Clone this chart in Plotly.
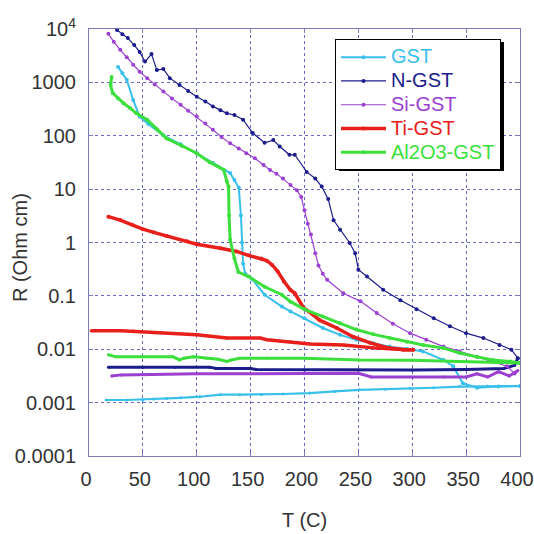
import plotly.graph_objects as go

# Resistivity vs temperature for doped GST films (heating and cooling branches)

series_names = ["GST", "N-GST", "Si-GST", "Ti-GST", "Al2O3-GST"]
series_colors = ["#38c0ea", "#1c1c8c", "#9b40d0", "#e8201c", "#3cdf3c"]

# --- GST ---
gst_heat_T = [27, 31, 35, 41, 47, 55, 69, 85, 100, 115, 131, 135, 139, 141, 142, 143, 145,
              151, 163, 179, 187, 200, 217, 233, 248, 264, 279, 295, 310, 329, 338, 347, 360, 380, 400]
gst_heat_R = [1950, 1480, 1120, 468, 229, 166, 102, 69, 47, 31, 20, 14.8, 10.7, 3.2, 1.0, 0.4, 0.26,
              0.21, 0.105, 0.063, 0.051, 0.038, 0.025, 0.0186, 0.0151, 0.0129, 0.0112, 0.0102, 0.0091,
              0.0063, 0.0048, 0.0023, 0.0019, 0.0020, 0.00204]
gst_cool_T = [400, 370, 344, 320, 298, 275, 251, 228, 205, 180, 160, 140, 122, 103, 85, 72, 60, 50, 35, 16]
gst_cool_R = [0.00204, 0.00204, 0.0020, 0.0019, 0.00186, 0.00178, 0.00174, 0.00162, 0.00151, 0.00145,
              0.00141, 0.00141, 0.00141, 0.00129, 0.00123, 0.0012, 0.00117, 0.00112, 0.00112, 0.00112]

# --- N-GST ---
ngst_heat_T = [26, 31, 36, 42, 47, 52, 58, 63, 69, 75, 84, 92, 100, 108, 115, 122, 128, 135, 143, 152,
               163, 171, 177, 186, 191, 202, 210, 216, 222, 227, 233, 242, 247, 250, 258, 273, 289, 304,
               320, 335, 350, 366, 381, 392, 398]
ngst_heat_R = [9550, 7940, 6760, 5010, 3720, 2450, 3390, 1700, 1780, 1200, 891, 692, 537, 437, 355, 302,
               263, 245, 200, 112, 74, 83, 63, 44, 44, 21, 15.8, 11.2, 6.5, 2.6, 1.74, 0.98, 0.63, 0.31,
               0.23, 0.13, 0.083, 0.056, 0.038, 0.027, 0.020, 0.0162, 0.012, 0.0098, 0.0068]
ngst_cool_T = [398, 395, 385, 350, 300, 250, 200, 155, 150, 118, 112, 80, 50, 18]
ngst_cool_R = [0.0068, 0.0050, 0.00437, 0.00417, 0.00407, 0.00407, 0.00407, 0.00417, 0.00437, 0.00437,
               0.00462, 0.00462, 0.00462, 0.00462]

# --- Si-GST ---
sigst_heat_T = [18, 23, 29, 35, 41, 47, 54, 61, 69, 77, 85, 92, 100, 108, 115, 123, 131, 139, 146, 154,
                162, 168, 174, 180, 187, 193, 197, 200, 203, 206, 210, 213, 217, 221, 236, 252, 267, 282,
                298, 313, 329, 344, 360, 375, 388, 395]
sigst_heat_R = [8130, 5750, 4070, 2950, 2140, 1580, 1200, 912, 676, 501, 380, 295, 229, 170, 129, 95, 72,
                57.5, 46.8, 38, 28.2, 22.9, 19.5, 15.8, 12, 9.5, 7.1, 4.0, 2.24, 1.41, 0.63, 0.37, 0.26,
                0.20, 0.112, 0.079, 0.048, 0.030, 0.020, 0.0151, 0.0112, 0.0091, 0.0072, 0.0059, 0.0048,
                0.0035]
sigst_cool_T = [398, 390, 380, 370, 360, 350, 330, 300, 262, 250, 200, 150, 100, 50, 30, 21]
sigst_cool_R = [0.00398, 0.00316, 0.0038, 0.00302, 0.00347, 0.00302, 0.00302, 0.00302, 0.00302, 0.00355,
                0.00347, 0.00347, 0.00347, 0.00339, 0.00331, 0.00316]

# --- Ti-GST ---
tigst_heat_T = [18, 29, 40, 50, 60, 72, 91, 100, 122, 137, 148, 160, 165, 170, 175, 181, 187, 191, 199,
                207, 214, 230, 245, 261, 276, 292, 301]
tigst_heat_R = [3.05, 2.63, 2.14, 1.78, 1.55, 1.32, 1.05, 0.93, 0.78, 0.68, 0.575, 0.50, 0.457, 0.38, 0.29,
                0.186, 0.129, 0.112, 0.060, 0.046, 0.035, 0.025, 0.0172, 0.0132, 0.0108, 0.0098, 0.0098]
tigst_cool_T = [301, 295, 267, 236, 205, 187, 165, 159, 128, 100, 60, 41, 30, 2]
tigst_cool_R = [0.0098, 0.0098, 0.0105, 0.012, 0.0126, 0.0138, 0.0151, 0.0162, 0.0162, 0.0186, 0.0204,
                0.0219, 0.0221, 0.0221]

# --- Al2O3-GST ---
algst_heat_T = [21, 20, 22, 27, 32, 38, 44, 54, 63, 72, 86, 100, 112, 125, 128, 129.5, 130, 131, 135,
                138.6, 148, 163, 179, 187, 200, 217, 233, 248, 264, 279, 295, 310, 329, 344, 360, 375,
                391, 400]
algst_heat_R = [1260, 891, 631, 501, 407, 331, 263, 200, 132, 89, 65, 47, 32, 23, 13.8, 11.2, 3.16, 1.12,
                0.50, 0.28, 0.23, 0.148, 0.105, 0.078, 0.056, 0.041, 0.031, 0.0234, 0.019, 0.0162, 0.0138,
                0.012, 0.0105, 0.0085, 0.0072, 0.0063, 0.0059, 0.0055]
algst_cool_T = [400, 391, 344, 300, 251, 200, 165, 140, 132, 128, 120, 109, 97, 88, 84, 78, 50, 25, 18]
algst_cool_R = [0.0055, 0.0056, 0.0059, 0.0062, 0.0063, 0.0068, 0.0068, 0.0068, 0.0063, 0.0059, 0.0065,
                0.0068, 0.0072, 0.0068, 0.0063, 0.0072, 0.0072, 0.0072, 0.0079]

x_ticks = [0, 50, 100, 150, 200, 250, 300, 350, 400]
y_ticks = [1e-4, 1e-3, 1e-2, 1e-1, 1, 10, 100, 1000, 1e4]
y_tick_text = ["0.0001", "0.001", "0.01", "0.1", "1", "10", "100", "1000", "10<sup>4</sup>"]
x_title = "T (C)"
y_title = "R (Ohm cm)"

heat = [(gst_heat_T, gst_heat_R), (ngst_heat_T, ngst_heat_R), (sigst_heat_T, sigst_heat_R),
        (tigst_heat_T, tigst_heat_R), (algst_heat_T, algst_heat_R)]
cool = [(gst_cool_T, gst_cool_R), (ngst_cool_T, ngst_cool_R), (sigst_cool_T, sigst_cool_R),
        (tigst_cool_T, tigst_cool_R), (algst_cool_T, algst_cool_R)]
heat_width = [2, 1.2, 1.2, 3.5, 3]
cool_width = [2.2, 3, 3, 3.5, 3]

FONT = "Liberation Sans, Arial, sans-serif"
TEXT = "#333333"

fig = go.Figure()
for i, name in enumerate(series_names):
    c = series_colors[i]
    fig.add_trace(go.Scatter(
        x=cool[i][0], y=cool[i][1], mode="lines+markers",
        line=dict(color=c, width=cool_width[i]), marker=dict(color=c, size=3),
        legendgroup=name, showlegend=False, hoverinfo="skip"))
    fig.add_trace(go.Scatter(
        x=heat[i][0], y=heat[i][1], mode="lines+markers",
        line=dict(color=c, width=heat_width[i]), marker=dict(color=c, size=4),
        legendgroup=name,
        name=f'<span style="color:{c};font-size:20px">{name}</span>'))

axis_common = dict(
    showgrid=True, gridcolor="#6a6ac4", griddash="3px,3px", gridwidth=1,
    showline=True, linecolor="#7b7bb8", linewidth=1, mirror="ticks",
    ticks="inside", ticklen=4, tickcolor="#7b7bb8",
    tickfont=dict(family=FONT, size=20, color=TEXT),
    zeroline=False, automargin=False,
)

fig.update_layout(
    width=534, height=534,
    margin=dict(l=89, r=14, t=29, b=78),
    paper_bgcolor="white", plot_bgcolor="white",
    font=dict(family=FONT, size=20, color=TEXT),
    xaxis=dict(range=[0, 400], tickvals=x_ticks, ticklabelstandoff=5, ticklabelshift=-3,
               ticklabeloverflow="allow", **axis_common),
    yaxis=dict(type="log", range=[-4, 4], tickvals=y_ticks, ticktext=y_tick_text,
               ticklabelstandoff=8, ticklabeloverflow="allow", **axis_common),
    legend=dict(x=0.5708, y=0.976, xanchor="left", yanchor="top",
                bgcolor="white", bordercolor="black", borderwidth=1,
                font=dict(family=FONT, size=16), tracegroupgap=0, itemwidth=45),
    showlegend=True,
    annotations=[
        dict(text=x_title, xref="paper", yref="paper", x=0.50, y=-0.150,
             xanchor="center", yanchor="middle", showarrow=False,
             font=dict(family=FONT, size=20, color=TEXT)),
        dict(text=y_title, xref="paper", yref="paper", x=-0.160, y=0.487,
             xanchor="center", yanchor="middle", textangle=-90, showarrow=False,
             font=dict(family=FONT, size=20, color=TEXT)),
    ],
    # drop shadow behind the legend box
    shapes=[dict(type="rect", xref="paper", yref="paper",
                 x0=(339 - 89) / 431, x1=(504 - 89) / 431,
                 y0=(456 - 171) / 427, y1=(456 - 42) / 427,
                 fillcolor="black", line=dict(width=0), layer="above")],
)

fig.write_html("out.html")
